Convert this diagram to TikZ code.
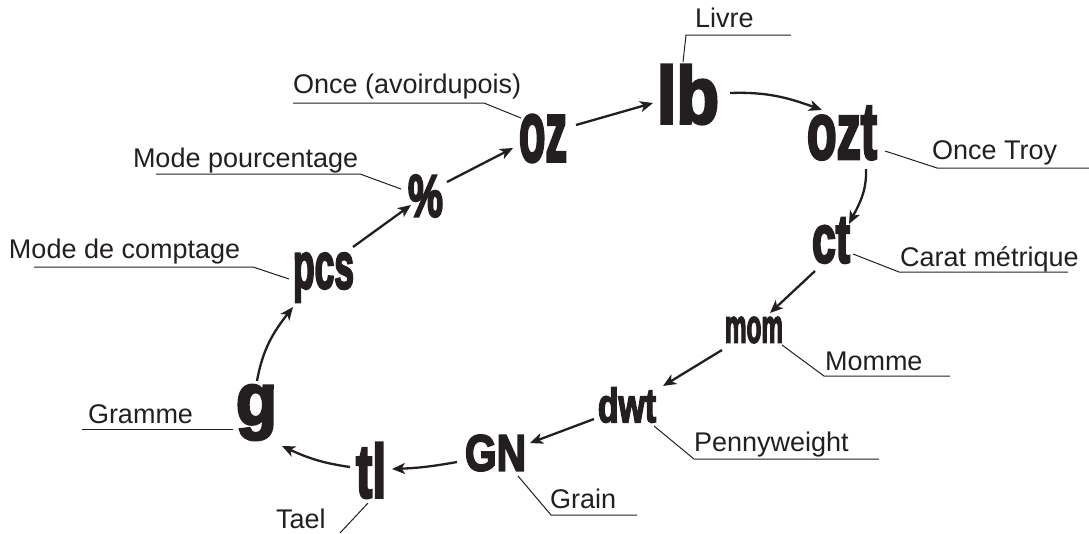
\documentclass[tikz,border=0pt]{standalone}
\usepackage{fontspec}
\setmainfont{Liberation Sans}
\newfontfamily\symfont{Liberation Sans Bold}[FakeBold=4]
\usetikzlibrary{arrows.meta,calc}
\definecolor{ink}{RGB}{35,31,32}
\newcommand\symb[3]{\resizebox*{#1pt}{#2pt}{\symfont #3}}
\tikzset{
  sym/.style={inner sep=0pt, outer sep=0pt, text=ink},
  lbl/.style={inner sep=0pt, outer sep=0pt, anchor=base west, text=ink, font=\fontsize{27}{32}\selectfont},
  arr/.style={draw=ink, line width=2.3pt, -{Stealth[length=13pt,width=11pt,inset=3.5pt]}},
  lead/.style={draw=ink, line width=1pt}
}
\begin{document}
\begin{tikzpicture}[x=1pt,y=1pt]
\useasboundingbox (0,0) rectangle (1089,-533);
% symbols
\node[sym] (oz)  at (543,-138.5) {\symb{48}{47}{oz}};
\node[sym] (lb)  at (688,-94.5)  {\symb{62}{59}{lb}};
\node[sym] (ozt) at (842,-133)   {\symb{70}{53}{ozt}};
\node[sym] (ct)  at (831,-240.5) {\symb{38}{45}{ct}};
\node[sym] (mom) at (754,-330)   {\symb{58}{26}{mom}};
\node[sym] (dwt) at (627,-405)   {\symb{58}{35}{dwt}};
\node[sym] (GN)  at (495.5,-453) {\symb{61}{36}{GN}};
\node[sym] (tl)  at (371,-470.5) {\symb{30}{55}{tl}};
\node[sym] (g)   at (256.5,-412.5) {\symb{41}{55}{g}};
\node[sym] (pcs) at (323.5,-277.5) {\symb{61}{49}{pcs}};
\node[sym] (pct) at (425.5,-196) {\symb{35}{42}{\%}};
% arrows
\draw[arr] ($(oz)+(33,13.5)$) -- ($(lb)+(-35,-8.5)$);
\draw[arr] ($(lb)+(42,1.5)$) to[out=2,in=160] ($(ozt)+(-20,23)$);
\draw[arr] ($(ozt)+(24,-36)$) to[out=-88,in=63] ($(ct)+(18,16.5)$);
\draw[arr] ($(ct)+(-16,-30.5)$) -- ($(mom)+(16,17)$);
\draw[arr] ($(mom)+(-32,-20)$) -- ($(dwt)+(36,19)$);
\draw[arr] ($(dwt)+(-33,-14)$) -- ($(GN)+(34.5,10)$);
\draw[arr] ($(GN)+(-38.5,-9)$) to[bend left=4] ($(tl)+(21,1.5)$);
\draw[arr] ($(tl)+(-21,3.5)$) to[out=172,in=-25] ($(g)+(25.5,-33.5)$);
\draw[arr] ($(g)+(0.5,31.5)$) to[out=80,in=-128] ($(pcs)+(-30.5,-29.5)$);
\draw[arr] ($(pcs)+(29.5,30.5)$) -- ($(pct)+(-14.5,-9)$);
\draw[arr] ($(pct)+(21.5,14)$) -- ($(oz)+(-30,-9.5)$);
% labels
\node[lbl] (Llivre) at (695,-27) {Livre};
\node[lbl] (Lonce) at (293,-93) {Once (avoirdupois)};
\node[lbl] (Lpct) at (133,-167) {Mode pourcentage};
\node[lbl] (Lpcs) at (9,-258) {Mode de comptage};
\node[lbl] (Lg) at (88,-423) {Gramme};
\node[lbl] (Ltl) at (276,-528) {Tael};
\node[lbl] (LGN) at (550,-508) {Grain};
\node[lbl] (Ldwt) at (694,-451) {Pennyweight};
\node[lbl] (Lmom) at (825,-370) {Momme};
\node[lbl] (Lct) at (900,-266) {Carat métrique};
\node[lbl] (Lozt) at (932,-159) {Once Troy};
% leader lines
\coordinate (eLivre) at (791,-35);
\coordinate (eOnce) at (293,-103);
\coordinate (ePct) at (156,-174);
\coordinate (ePcs) at (34,-267);
\coordinate (eG) at (82,-429);
\coordinate (eTl) at (340,-533);
\coordinate (eGN) at (637,-515);
\coordinate (eDwt) at (879,-459);
\coordinate (eMom) at (950,-376);
\coordinate (eCt) at (1068,-272);
\coordinate (eOzt) at (1089,-168);
\draw[lead] ($(lb)+(-5,32.5)$) -- (686,-35) -- (eLivre);
\draw[lead] ($(oz)+(-22,20.5)$) -- (484,-103) -- (eOnce);
\draw[lead] ($(pct)+(-24.5,7)$) -- (360,-174) -- (ePct);
\draw[lead] ($(pcs)+(-34.5,-1.5)$) -- (253,-267) -- (ePcs);
\draw[lead] ($(g)+(-23.5,-16.5)$) -- (eG);
\draw[lead] ($(tl)+(-3,-32.5)$) -- (eTl);
\draw[lead] ($(GN)+(22.5,-23)$) -- (551,-515) -- (eGN);
\draw[lead] ($(dwt)+(27,-21)$) -- (694,-459) -- (eDwt);
\draw[lead] ($(mom)+(28,-15)$) -- (824,-376) -- (eMom);
\draw[lead] ($(ct)+(22,-13.5)$) -- (899,-272) -- (eCt);
\draw[lead] ($(ozt)+(43,-18)$) -- (937,-168) -- (eOzt);
\end{tikzpicture}
\end{document}
